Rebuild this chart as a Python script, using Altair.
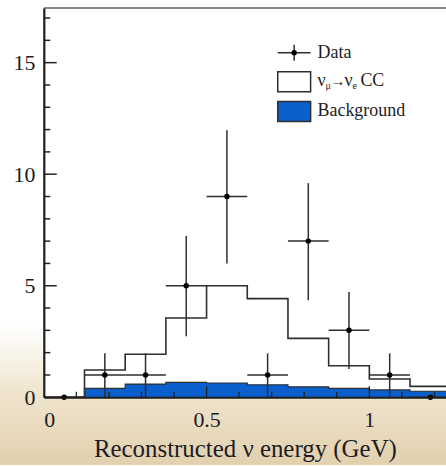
import altair as alt
import pandas as pd

# ---- data ----
edges = [0.0, 0.125, 0.25, 0.375, 0.5, 0.625, 0.75, 0.875, 1.0, 1.125, 1.25]
signal_total = [0.0, 1.22, 1.93, 3.55, 5.0, 4.42, 2.64, 1.41, 0.82, 0.49]
background = [0.0, 0.40, 0.59, 0.67, 0.64, 0.56, 0.47, 0.40, 0.33, 0.27]
data_counts = [0, 1, 1, 5, 9, 1, 7, 3, 1, 0]
err_high = [0, 1.97, 1.97, 7.23, 11.97, 1.97, 9.6, 4.72, 1.97, 0]
err_low = [0, 0, 0, 2.74, 6.0, 0, 4.35, 1.27, 0, 0]

x_label_values = [0, 0.5, 1]
y_label_values = [0, 5, 10, 15]
x_major = [0.5, 1.0]
x_minor = [0.1, 0.2, 0.3, 0.4, 0.6, 0.7, 0.8, 0.9, 1.1, 1.2]
y_major = [5, 10, 15]
y_minor = [1, 2, 3, 4, 6, 7, 8, 9, 11, 12, 13, 14, 16, 17]
legend_labels = ["Data", "νμ→νe CC", "Background"]
x_title = "Reconstructed ν energy (GeV)"

# ---- layout / style ----
W, H = 404, 391
XMAX, YMAX = 1.2355, 17.45
PADL, PADT, PADB = 44, 7, 68
FONT = "Liberation Serif"
BLUE = "#0a5fcc"
LINE = "#2e2e2e"
TXT = "#1c1c24"

xs = alt.Scale(domain=[0, XMAX], nice=False, zero=False)
ys = alt.Scale(domain=[0, YMAX], nice=False)
X_AX = alt.Axis(values=x_label_values, format="~g", ticks=False, grid=False,
                labelPadding=12, titlePadding=7, zindex=1)
Y_AX = alt.Axis(values=y_label_values, format="d", ticks=False, grid=False,
                labelPadding=9, zindex=1)


def X(field):
    return alt.X(field, type="quantitative", scale=xs, axis=X_AX, title=x_title)


def Y(field):
    return alt.Y(field, type="quantitative", scale=ys, axis=Y_AX, title=None)


steps = pd.DataFrame({
    "x": edges,
    "total": signal_total + [signal_total[-1]],
    "bg": background + [background[-1]],
})
centers = [(edges[i] + edges[i + 1]) / 2 for i in range(len(data_counts))]
pts = pd.DataFrame({
    "c": centers,
    "lo": edges[:-1],
    "hi": edges[1:],
    "n": data_counts,
    "eh": err_high,
    "el": err_low,
})
pts_err = pts[pts["eh"] > 0]

one = pd.DataFrame({"k": [0]})

grad = alt.Gradient(
    gradient="linear",
    stops=[
        alt.GradientStop(color="#ffffff", offset=0),
        alt.GradientStop(color="#ffffff", offset=0.70),
        alt.GradientStop(color="#f0e5cf", offset=0.84),
        alt.GradientStop(color="#e2d0ae", offset=1),
    ],
    x1=0, x2=0, y1=0, y2=1,
)

bg_canvas = alt.Chart(one).mark_rect(fill=grad).encode(
    x=alt.value(-PADL), x2=alt.value(W + 4), y=alt.value(-PADT), y2=alt.value(H + PADB)
)
plot_white = alt.Chart(one).mark_rect(fill="white").encode(
    x=alt.value(0), x2=alt.value(W), y=alt.value(0), y2=alt.value(H)
)

bg_area = alt.Chart(steps).mark_area(interpolate="step-after", color=BLUE, clip=True).encode(
    x=X("x"), y=Y("bg"),
)
bg_line = alt.Chart(steps).mark_line(interpolate="step-after", color=LINE, strokeWidth=1.2, clip=True).encode(
    x=X("x"), y=Y("bg"),
)
total_line = alt.Chart(steps).mark_line(interpolate="step-after", color=LINE, strokeWidth=1.6, clip=True).encode(
    x=X("x"), y=Y("total"),
)

err_v = alt.Chart(pts_err).mark_rule(color=LINE, strokeWidth=1.5).encode(
    x=X("c"), y=Y("el"), y2="eh:Q",
)
err_h = alt.Chart(pts).mark_rule(color=LINE, strokeWidth=1.5, clip=True).encode(
    x=X("lo"), x2="hi:Q", y=Y("n"),
)
dots = alt.Chart(pts).mark_circle(color="black", size=30, opacity=1).encode(
    x=X("c"), y=Y("n"),
)


def xticks(vals, length):
    return alt.Chart(pd.DataFrame({"v": vals})).mark_rule(color="#222222", strokeWidth=1.3).encode(
        x=X("v"), y=alt.value(H), y2=alt.value(H - length)
    )


def yticks(vals, length):
    return alt.Chart(pd.DataFrame({"v": vals})).mark_rule(color="#222222", strokeWidth=1.5).encode(
        y=Y("v"), x=alt.value(0), x2=alt.value(length)
    )


top_frame = alt.Chart(one).mark_rule(color="#8a8a8a", strokeWidth=2).encode(
    x=alt.value(0), x2=alt.value(W + 4), y=alt.value(0)
)

# ---- legend (drawn by hand, ROOT style) ----
LX0, LX1 = 235, 268
legend = [
    alt.Chart(one).mark_rule(color=LINE, strokeWidth=1.5).encode(
        x=alt.value(LX0), x2=alt.value(LX1), y=alt.value(45)),
    alt.Chart(one).mark_rule(color=LINE, strokeWidth=1.5).encode(
        x=alt.value((LX0 + LX1) / 2), y=alt.value(37), y2=alt.value(53)),
    alt.Chart(one).mark_circle(color="black", size=30, opacity=1).encode(
        x=alt.value((LX0 + LX1) / 2), y=alt.value(45)),
    alt.Chart(one).mark_rect(fill="white", stroke=LINE, strokeWidth=1.5).encode(
        x=alt.value(LX0), x2=alt.value(LX1), y=alt.value(64), y2=alt.value(84)),
    alt.Chart(one).mark_rect(fill=BLUE, stroke=LINE, strokeWidth=1.5).encode(
        x=alt.value(LX0), x2=alt.value(LX1), y=alt.value(94), y2=alt.value(114)),
]


def ltext(txt, x, y, size=18):
    return alt.Chart(one).mark_text(text=txt, font=FONT, fontSize=size, color=TXT,
                                    align="left", baseline="middle").encode(
        x=alt.value(x), y=alt.value(y))


lab_data, lab_sig, lab_bg = legend_labels
legend += [
    ltext(lab_data, 275, 45),
    ltext(lab_sig[0], 275, 73),
    ltext(lab_sig[1], 283, 78, 10),
    ltext(lab_sig[2], 288, 73, 15),
    ltext(lab_sig[3], 302, 73),
    ltext(lab_sig[4], 310, 78, 10),
    ltext(lab_sig[6:], 318, 73),
    ltext(lab_bg, 275, 103),
]

chart = alt.layer(
    bg_canvas, plot_white, bg_area, bg_line, total_line, err_v, err_h, dots,
    xticks(x_major, 11), xticks(x_minor, 5.5), yticks(y_major, 13), yticks(y_minor, 6.5),
    top_frame, *legend,
).properties(
    width=W, height=H,
    autosize=alt.AutoSizeParams(type="none"),
    padding={"left": PADL, "top": PADT, "right": 0, "bottom": PADB},
    background="white",
).configure_view(
    strokeWidth=0,
).configure_axis(
    domainColor="#1e1e1e",
    domainWidth=2.2,
    labelFont=FONT,
    labelFontSize=22,
    labelColor=TXT,
    titleFont=FONT,
    titleFontSize=25,
    titleFontWeight="normal",
    titleColor=TXT,
)

chart.save("out.html", embed_options={"renderer": "svg", "actions": False})
